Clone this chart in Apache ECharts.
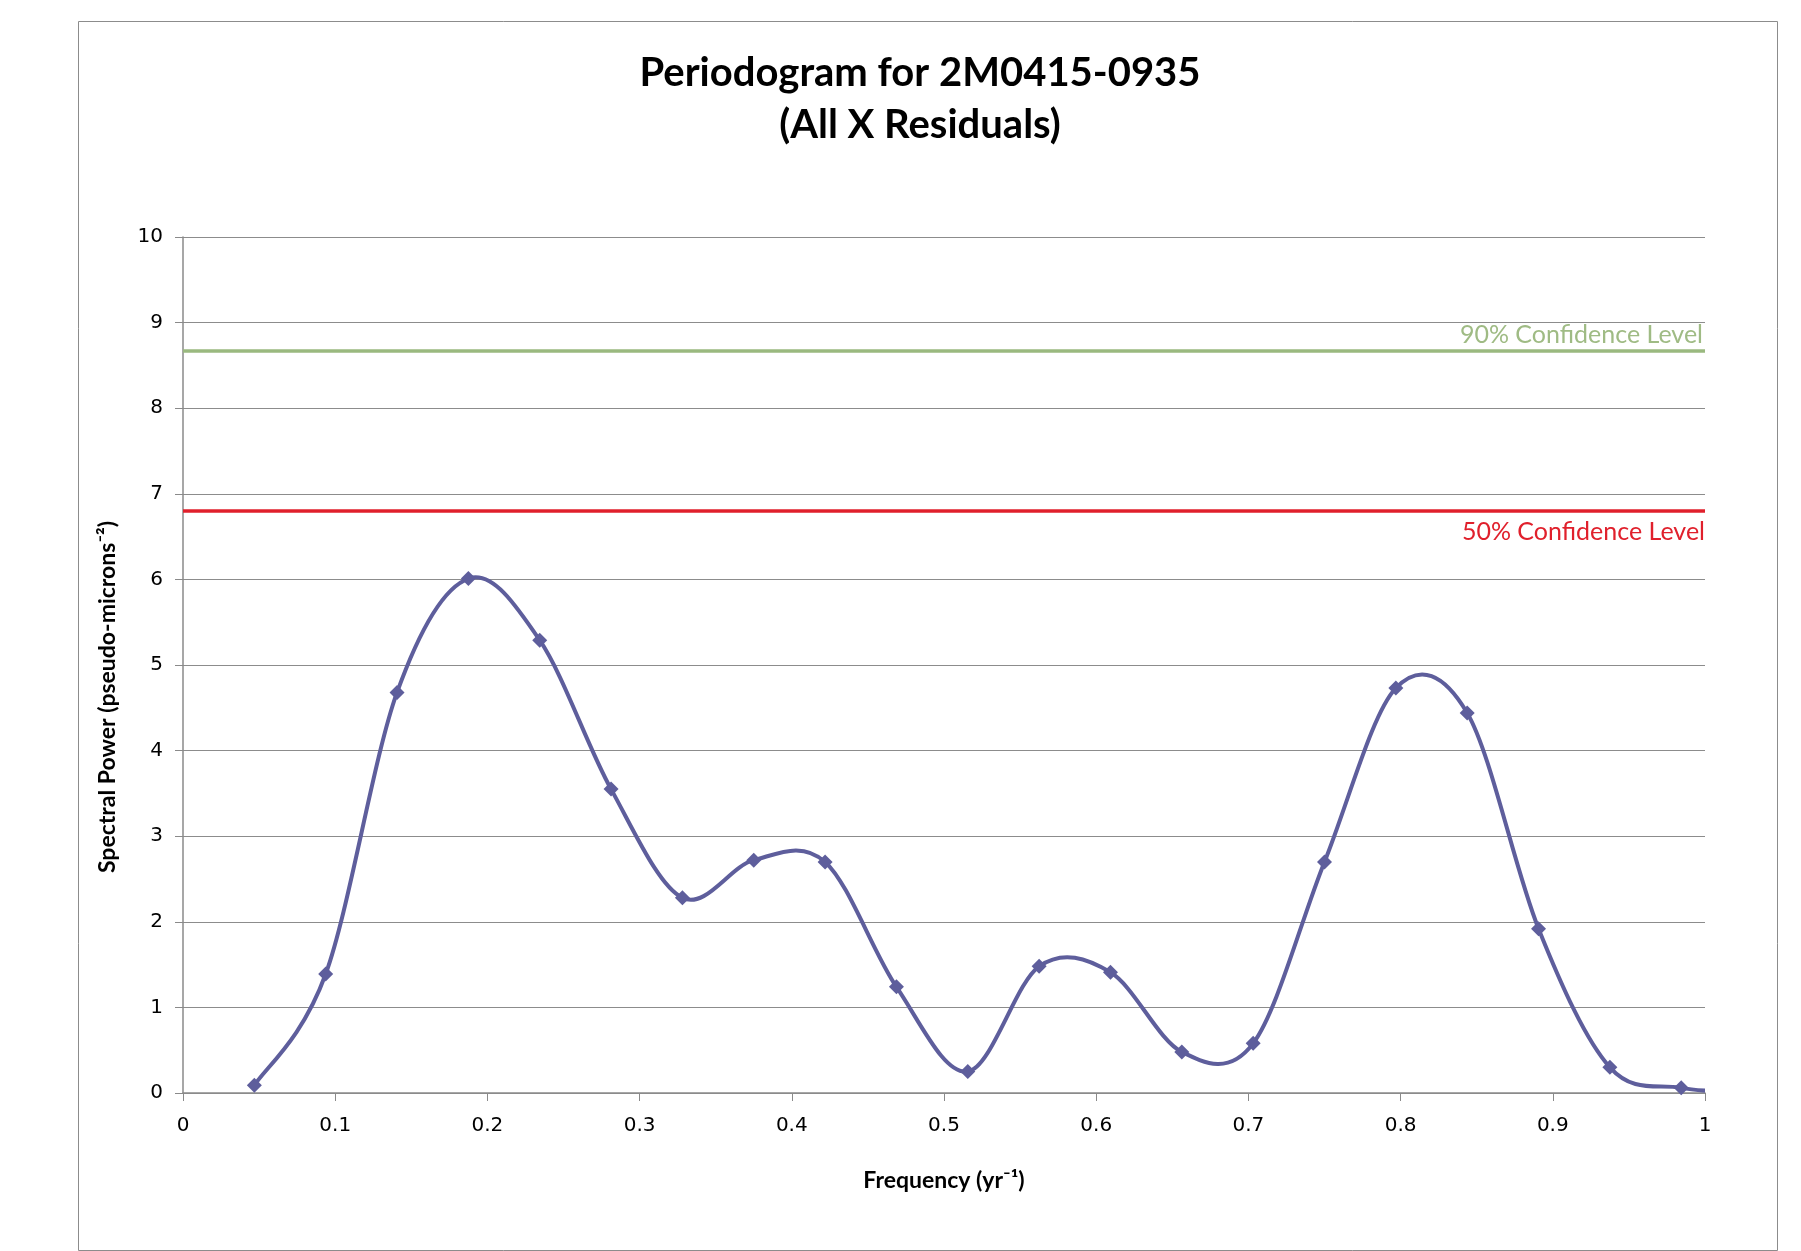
<!DOCTYPE html>
<html>
<head>
<meta charset="utf-8">
<title>Periodogram for 2M0415-0935</title>
<script src="https://cdn.jsdelivr.net/npm/echarts@6/dist/echarts.min.js"></script>
<style>
  html, body { margin: 0; padding: 0; background: #ffffff; }
  #chart { width: 1801px; height: 1251px; }
</style>
</head>
<body>
<div id="chart"></div>
<script>
// Frequencies (yr^-1) of the periodogram samples
const frequency = [0.046875, 0.09375, 0.140625, 0.1875, 0.234375, 0.28125, 0.328125,
  0.375, 0.421875, 0.46875, 0.515625, 0.5625, 0.609375, 0.65625, 0.703125, 0.75,
  0.796875, 0.84375, 0.890625, 0.9375, 0.984375, 1.03125];
// Spectral power (pseudo-microns^-2) at each frequency
const power = [0.09, 1.39, 4.68, 6.01, 5.29, 3.55, 2.28, 2.72, 2.70, 1.24, 0.25,
  1.48, 1.41, 0.48, 0.58, 2.70, 4.73, 4.44, 1.92, 0.30, 0.06, 0.0];
// Confidence thresholds
const confidenceNames = ['90% Confidence Level', '50% Confidence Level'];
const confidenceValues = [8.67, 6.80];
const xTicks = [0, 0.1, 0.2, 0.3, 0.4, 0.5, 0.6, 0.7, 0.8, 0.9, 1];
const yTicks = [0, 1, 2, 3, 4, 5, 6, 7, 8, 9, 10];

const chart = echarts.init(document.getElementById('chart'), null, { renderer: 'canvas' });

const points = frequency.map((f, i) => [f, power[i]]);
const lineColor = '#5e5e9c';
const levelColors = ['#9ab97f', '#e0202c'];
const levelText = ['#9fbb84', '#e0202c'];
const sansFont = 'Lato';

// Smoothed curve: one cubic Bezier per segment, Catmull-Rom style tangents
function renderSegment(params, api) {
  const i = params.dataIndex;
  const n = points.length;
  if (i >= n - 1) return null;
  const c = j => api.coord(points[Math.max(0, Math.min(n - 1, j))]);
  const p0 = c(i - 1), p1 = c(i), p2 = c(i + 1), p3 = c(i + 2);
  const k = 1 / 6;
  return {
    type: 'bezierCurve',
    shape: {
      x1: p1[0], y1: p1[1],
      x2: p2[0], y2: p2[1],
      cpx1: p1[0] + (p2[0] - p0[0]) * k,
      cpy1: p1[1] + (p2[1] - p0[1]) * k,
      cpx2: p2[0] - (p3[0] - p1[0]) * k,
      cpy2: p2[1] - (p3[1] - p1[1]) * k
    },
    style: { stroke: lineColor, lineWidth: 4, fill: null, lineCap: 'round' }
  };
}

chart.setOption({
  animation: false,
  backgroundColor: '#ffffff',
  graphic: [{
    type: 'rect',
    shape: { x: 78.5, y: 21.5, width: 1699, height: 1229 },
    style: { fill: 'none', stroke: '#8c8c8c', lineWidth: 1 },
    silent: true
  }],
  title: {
    text: 'Periodogram for 2M0415-0935\n(All X Residuals)',
    left: 915,
    textAlign: 'center',
    top: 42,
    textStyle: {
      fontFamily: sansFont,
      fontWeight: 'bold',
      fontSize: 40,
      lineHeight: 52,
      color: '#000000'
    }
  },
  grid: { left: 183, right: 96, top: 237, bottom: 158 },
  xAxis: {
    type: 'value',
    min: xTicks[0],
    max: xTicks[xTicks.length - 1],
    interval: 0.1,
    name: 'Frequency (yr⁻¹)',
    nameLocation: 'middle',
    nameGap: 76,
    nameTextStyle: { fontFamily: sansFont, fontWeight: 'bold', fontSize: 23, color: '#000' },
    axisLine: { lineStyle: { color: '#8a8a8a', width: 1.5 } },
    axisTick: { show: true, length: 8, lineStyle: { color: '#8a8a8a' } },
    axisLabel: {
      margin: 23,
      fontFamily: 'DejaVu Sans',
      fontSize: 20,
      color: '#000',
      formatter: v => String(Math.round(v * 10) / 10)
    },
    splitLine: { show: false }
  },
  yAxis: {
    type: 'value',
    min: yTicks[0],
    max: yTicks[yTicks.length - 1],
    interval: 1,
    name: 'Spectral Power (pseudo-microns⁻²)',
    nameLocation: 'middle',
    nameGap: 64,
    nameRotate: 90,
    nameTextStyle: {
      fontFamily: sansFont, fontWeight: 'bold', fontSize: 23, color: '#000',
      padding: [0, 64, 0, 0]
    },
    axisLine: { show: true, lineStyle: { color: '#8a8a8a', width: 1.5 } },
    axisTick: { show: true, length: 8, lineStyle: { color: '#8a8a8a' } },
    axisLabel: { margin: 20, fontFamily: 'DejaVu Sans', fontSize: 20, color: '#000' },
    splitLine: { show: true, lineStyle: { color: '#8c8c8c', width: 1.2 } }
  },
  series: [{
    type: 'custom',
    name: 'curve',
    data: points,
    clip: true,
    renderItem: renderSegment,
    encode: { x: 0, y: 1 },
    silent: true
  }, {
    type: 'scatter',
    name: 'samples',
    data: points,
    clip: true,
    symbol: 'diamond',
    symbolSize: 15,
    itemStyle: { color: lineColor, opacity: 1 },
    markLine: {
      silent: true,
      symbol: 'none',
      data: confidenceValues.map((v, i) => ({
        yAxis: v,
        lineStyle: { color: levelColors[i], width: 3.5, type: 'solid' },
        label: {
          show: true,
          formatter: confidenceNames[i],
          position: i === 0 ? 'insideEndTop' : 'insideEndBottom',
          distance: i === 0 ? [2, 3] : [0, 9],
          color: levelText[i],
          fontFamily: sansFont,
          fontSize: 25
        }
      }))
    }
  }]
});
</script>
</body>
</html>
